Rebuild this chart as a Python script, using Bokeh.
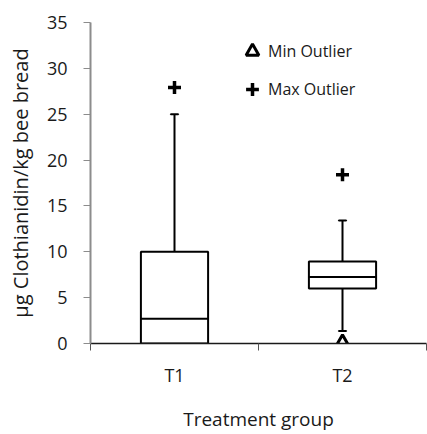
from bokeh.plotting import figure
from bokeh.models import FixedTicker, Legend, LegendItem, ColumnDataSource
from bokeh.embed import file_html
from bokeh.resources import INLINE

groups = ["T1", "T2"]
q1 = [0.0, 6.0]
median = [2.7, 7.25]
q3 = [10.0, 8.95]
whisker_low = [0.0, 1.35]
whisker_high = [25.0, 13.4]
min_outlier_group = ["T2"]
min_outlier = [0.0]
max_outlier_group = ["T1", "T2"]
max_outlier = [27.9, 18.4]
y_ticks = [0, 5, 10, 15, 20, 25, 30, 35]

FONT = "Open Sans"
TXT = "#1a1a1a"
pos = {g: i + 0.5 for i, g in enumerate(groups)}
xs = [pos[g] for g in groups]

p = figure(width=427, height=434, x_range=(0, 2), y_range=(0, 35),
           output_backend="svg", toolbar_location=None,
           min_border_left=90, min_border_right=1, min_border_top=22,
           min_border_bottom=90)
p.grid.visible = False
p.outline_line_color = None
p.background_fill_color = "white"
p.border_fill_color = "white"

src = ColumnDataSource(dict(x=xs, q1=q1, med=median, q3=q3, lo=whisker_low, hi=whisker_high))
# whiskers
p.segment(x0="x", y0="q3", x1="x", y1="hi", source=src, line_color="black", line_width=2)
p.segment(x0="x", y0="lo", x1="x", y1="q1", source=src, line_color="black", line_width=2)
p.rect(x="x", y="hi", width=0.045, height=0.001, source=src, line_color="black", line_width=2, fill_alpha=0)
p.rect(x="x", y="lo", width=0.045, height=0.001, source=src, line_color="black", line_width=2, fill_alpha=0)
# boxes
p.vbar(x="x", bottom="q1", top="q3", width=0.4, source=src, fill_color="white",
       line_color="black", line_width=2)
p.rect(x="x", y="med", width=0.4, height=0.001, source=src, line_color="black", line_width=2, fill_alpha=0)

tri = p.scatter(x=[pos[g] for g in min_outlier_group], y=min_outlier, marker="triangle",
                size=15, fill_color="white", line_color="black", line_width=3)
crs = p.scatter(x=[pos[g] for g in max_outlier_group], y=max_outlier, marker="cross",
                size=13, line_color="black", line_width=3.5)

legend = Legend(items=[LegendItem(label="Min Outlier", renderers=[tri]),
                       LegendItem(label="Max Outlier", renderers=[crs])],
                location=(146, 238), orientation="vertical",
                border_line_alpha=0, background_fill_alpha=0,
                padding=0, margin=0, spacing=6, glyph_width=32, glyph_height=32,
                label_standoff=-10, label_text_font=FONT, label_text_font_size="16px",
                label_text_color=TXT, label_height=32)
p.add_layout(legend)

# axes
yax = p.yaxis[0]
yax.ticker = FixedTicker(ticks=y_ticks)
yax.axis_line_color = "#8c8c8c"
yax.axis_line_width = 2
yax.major_tick_line_color = "#8c8c8c"
yax.major_tick_out = 7
yax.major_tick_in = 0
yax.minor_tick_out = 0
yax.minor_tick_in = 0
yax.major_label_standoff = 16
yax.major_label_text_font = FONT
yax.major_label_text_font_size = "18px"
yax.major_label_text_color = TXT
yax.axis_label = "µg Clothianidin/kg bee bread"
yax.axis_label_text_font = FONT
yax.axis_label_text_font_size = "20px"
yax.axis_label_text_font_style = "normal"
yax.axis_label_text_color = TXT
yax.axis_label_standoff = 10

xax = p.xaxis[0]
xax.ticker = FixedTicker(ticks=xs, minor_ticks=[0, 1, 2])
xax.major_label_overrides = {x: g for x, g in zip(xs, groups)}
xax.axis_line_color = TXT
xax.axis_line_width = 1.5
xax.major_tick_out = 0
xax.major_tick_in = 0
xax.minor_tick_out = 7
xax.minor_tick_in = 0
xax.minor_tick_line_color = "#555555"
xax.major_label_standoff = 12
xax.major_label_text_font = FONT
xax.major_label_text_font_size = "18px"
xax.major_label_text_color = TXT
xax.axis_label = "Treatment group"
xax.axis_label_text_font = FONT
xax.axis_label_text_font_size = "19px"
xax.axis_label_text_font_style = "normal"
xax.axis_label_text_color = TXT
xax.axis_label_standoff = 16

open("out.html", "w").write(file_html(p, INLINE))
